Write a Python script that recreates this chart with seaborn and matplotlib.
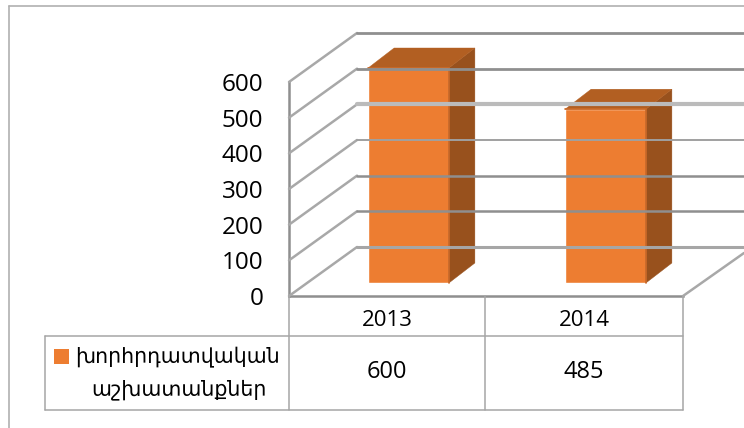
import matplotlib
matplotlib.use("Agg")
import matplotlib.pyplot as plt
from matplotlib.patches import Polygon
from matplotlib.transforms import Affine2D
import pandas as pd
import seaborn as sns

years = ["2013", "2014"]
values = [600, 485]
series_lines = ["խորհրդատվական", "աշխատանքներ"]
yticks = [0, 100, 200, 300, 400, 500, 600]

W, H = 744, 428
FRONT = "#ED7D31"
EDGE = "#CC6A28"
SIDE = "#98511D"
TOP = "#B25F22"
GRID = "#8F8F8F"
TABLE = "#A6A6A6"

sns.set_theme(style="white")
plt.rcParams["font.family"] = ["Open Sans", "DejaVu Sans"]

fig = plt.figure(figsize=(W / 100, H / 100), dpi=100)
px = Affine2D().scale(1, -1).translate(0, H)


def box(l, t, r, b):
    return [l / W, 1 - b / H, (r - l) / W, (b - t) / H]


def line(xs, ys, color=GRID, lw=1.8, z=1):
    fig.add_artist(plt.Line2D(xs, ys, transform=px, color=color, lw=lw, zorder=z))


# front axis with the value ticks and the year labels
ax = fig.add_axes(box(289, 82, 683, 296))
ax.patch.set_alpha(0)
ax.set_xlim(-0.5, 1.5)
ax.set_ylim(0, 600)
ax.set_yticks(yticks)
ax.set_xticks(range(len(years)), years)
ax.tick_params(axis="y", length=6.5, width=1, color=TABLE, labelsize=17.5, pad=12, labelcolor="black")
ax.tick_params(axis="x", length=0, labelsize=16, pad=10, labelcolor="black")
for s in ["top", "right"]:
    ax.spines[s].set_visible(False)
for s in ["left", "bottom"]:
    ax.spines[s].set_color(GRID)
    ax.spines[s].set_linewidth(1.8)

# walls: gridlines and receding lines, derived from the value scale
DX, DY = 68, 49
back_styles = {0: (TABLE, 2.2), 100: (GRID, 1.8), 200: (GRID, 1.8), 300: ("#A0A0A0", 1.4),
               400: ("#BBBBBB", 3.0), 500: (GRID, 2.0), 600: (GRID, 2.0)}
for v in yticks:
    _, y = ax.transData.transform((0, v))
    yp = H - y
    line([289, 289 + DX], [yp, yp - DY], color="#A8A8A8", lw=1.8)
    c, lw = back_styles[v]
    line([289 + DX, W], [yp - DY, yp - DY], color=c, lw=lw)
line([683, W], [296, 296 - 43], color="#A8A8A8", lw=1.8)

# bars, standing part way into the floor
ax2 = fig.add_axes(box(310, 68, 704, 283))
ax2.patch.set_alpha(0)
df = pd.DataFrame({"year": years, "value": values})
sns.barplot(data=df, x="year", y="value", color=FRONT, saturation=1, width=0.41, ax=ax2, zorder=3)
ax2.set_xlim(-0.5, 1.5)
ax2.set_ylim(0, 600)
ax2.axis("off")

dx, dy = 26, 20
for bar in list(ax2.patches):
    (x0, y0), (x1, y1) = ax2.transData.transform(bar.get_corners()[[0, 2]])
    t, b = H - y1, H - y0
    ax2.add_patch(Polygon([(x1, b), (x1 + dx, b - dy), (x1 + dx, t - dy), (x1, t)],
                          transform=px, fc=SIDE, ec=SIDE, lw=0.3, zorder=4, clip_on=False))
    ax2.add_patch(Polygon([(x0, t), (x0 + dx, t - dy), (x1 + dx, t - dy), (x1, t)],
                          transform=px, fc=TOP, ec=TOP, lw=0.3, zorder=4, clip_on=False))
    ax2.add_line(plt.Line2D([x0, x1, x1], [t, t, b], transform=px, color=EDGE, lw=1.2,
                            zorder=5, clip_on=False))

# data table under the axis
for x in [289, 485, 683]:
    line([x, x], [296, 410], color=TABLE, lw=1.1)
line([45, 45], [336, 410], color=TABLE, lw=1.1)
line([45, 683], [336, 336], color=TABLE, lw=1.1)
line([45, 683], [410, 410], color=TABLE, lw=1.1)
fig.add_artist(plt.Rectangle((54, 349), 15, 15, transform=px, fc=FRONT, ec="none"))
fig.text(75, 357, series_lines[0], transform=px, fontsize=14.8, va="center", ha="left",
         family=["DejaVu Sans"], color="black")
fig.text(91, 390, series_lines[1], transform=px, fontsize=14.8, va="center", ha="left",
         family=["DejaVu Sans"], color="black")
for cx, v in zip([387, 584], values):
    fig.text(cx, 372, str(v), transform=px, fontsize=17, va="center", ha="center", color="black")

# chart frame
line([9, 9], [6, H], color="#B0B0B0", lw=1.2)
line([9, W], [6, 6], color="#B0B0B0", lw=1.2)

fig.savefig("out.png", dpi=100)
